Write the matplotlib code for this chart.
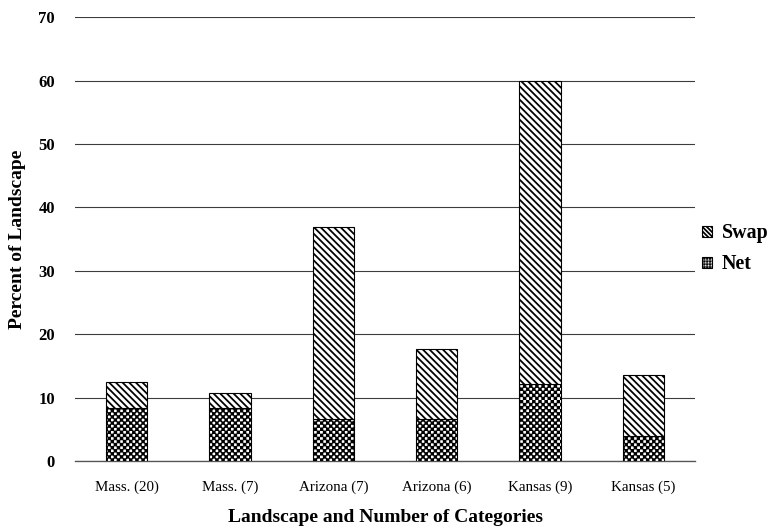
import warnings
import numpy as np
import matplotlib
matplotlib.use("Agg")
import matplotlib.pyplot as plt
import matplotlib.hatch as mhatch
from matplotlib.path import Path
from matplotlib.patches import Patch

# landscape / number of categories
categories = ["Mass. (20)", "Mass. (7)", "Arizona (7)", "Arizona (6)", "Kansas (9)", "Kansas (5)"]
# percent of landscape
net = [8.4, 8.4, 6.7, 6.7, 12.2, 3.9]
swap = [4.0, 2.4, 30.2, 10.9, 47.8, 9.6]
yticks = [0, 10, 20, 30, 40, 50, 60, 70]

DPI = 80
HATCH_LW = 1.6
BACKSLASH = chr(92)

plt.rcParams["hatch.linewidth"] = HATCH_LW
plt.rcParams["hatch.color"] = "black"
plt.rcParams["font.family"] = ["Liberation Serif", "DejaVu Serif"]


class CheckerHatch(mhatch.HatchPatternBase):
    """Filled checkerboard, selected with the 'c' hatch character."""

    def __init__(self, hatch, density):
        self.n = hatch.count("c") * 26
        self.num_vertices = (self.n * self.n // 2) * 5

    def set_vertices_and_codes(self, vertices, codes):
        n = self.n
        step = 1.0 / n
        # squares get stroked too, so shrink them by most of half a hatch line
        inset = 0.75 * HATCH_LW / 144.0
        i, j = np.meshgrid(np.arange(n), np.arange(n))
        mask = (i + j) % 2 == 0
        x0 = i[mask] * step + inset
        y0 = j[mask] * step + inset
        x1 = x0 + step - 2 * inset
        y1 = y0 + step - 2 * inset
        sq = np.stack([np.stack([x0, y0], -1), np.stack([x1, y0], -1),
                       np.stack([x1, y1], -1), np.stack([x0, y1], -1),
                       np.stack([x0, y0], -1)], axis=1)
        vertices[:] = sq.reshape(-1, 2)
        codes[:] = np.tile([Path.MOVETO, Path.LINETO, Path.LINETO,
                            Path.LINETO, Path.CLOSEPOLY], len(x0))


mhatch._hatch_types.append(CheckerHatch)
warnings.filterwarnings("ignore", category=matplotlib.MatplotlibDeprecationWarning)

fig = plt.figure(figsize=(772 / DPI, 527 / DPI), dpi=DPI)
ax = fig.add_axes([75 / 772, 1 - 461 / 527, 620 / 772, 443.7 / 527])

x = np.arange(len(categories))
ax.bar(x, net, width=0.4, color="white", edgecolor="black", linewidth=1.0,
       hatch="c", zorder=3)
# diagonal hatch lines are spaced 2/n of a cell, so 4 backslashes ~ 6.7 px
ax.bar(x, swap, width=0.4, bottom=net, color="white", edgecolor="black",
       linewidth=1.0, hatch=BACKSLASH * 4, zorder=3)

ax.set_ylim(0, 70)
ax.set_xlim(-0.5, len(categories) - 0.5)
ax.set_yticks(yticks)
ax.set_yticklabels([str(v) for v in yticks], fontsize=15, fontweight="bold")
ax.set_xticks(x)
ax.set_xticklabels(categories, fontsize=13.5)
ax.tick_params(axis="y", length=0, pad=18)
ax.tick_params(axis="x", length=0, pad=18)

ax.yaxis.grid(True, color="#3c3c3c", linewidth=1.0)
ax.set_axisbelow(True)
for side in ["top", "right", "left"]:
    ax.spines[side].set_visible(False)
ax.spines["bottom"].set_color("#555555")
ax.spines["bottom"].set_linewidth(1.2)

ax.set_ylabel("Percent of Landscape", fontsize=17.5, fontweight="bold", labelpad=11)
ax.set_xlabel("Landscape and Number of Categories", fontsize=17.5,
              fontweight="bold", labelpad=13)

handles = [Patch(facecolor="white", edgecolor="black", hatch=BACKSLASH * 6),
           Patch(facecolor="white", edgecolor="black", hatch="cc")]
fig.legend(handles, ["Swap", "Net"], loc="center left",
           bbox_to_anchor=(702 / 772, 1 - 249 / 527), frameon=False,
           prop={"size": 18, "weight": "bold"}, handlelength=0.5,
           handleheight=0.5, handletextpad=0.5, labelspacing=0.55,
           borderpad=0, borderaxespad=0)

fig.savefig("out.png", dpi=DPI)
